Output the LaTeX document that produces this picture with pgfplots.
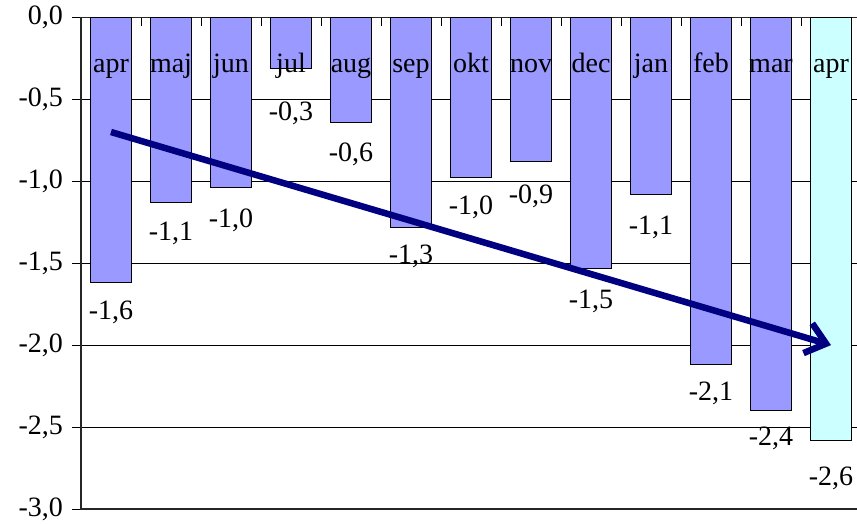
\documentclass[border=0pt]{standalone}
\usepackage{fontspec}
\setmainfont{Liberation Serif}
\usepackage{pgfplots}
\usepackage{pgfplotstable}
\pgfplotsset{compat=1.18}
\usetikzlibrary{arrows.meta,calc}

\definecolor{barblue}{HTML}{9999FF}
\definecolor{barcyan}{HTML}{CCFFFF}
\definecolor{navy}{HTML}{000080}
\newcommand\cf{\fontsize{28}{33}\selectfont}

% monthly change, apr .. mar; off = drop of the value label below the bar end (pt)
\pgfplotstableread{
x y off
0 -1.62 37
1 -1.13 38
2 -1.04 40
3 -0.31 52
4 -0.64 39
5 -1.28 36
6 -0.98 37
7 -0.88 42
8 -1.53 40
9 -1.08 40
10 -2.12 36
11 -2.40 35
}\bars

\pgfplotstableread{
x y off
12 -2.58 45
}\lastbar

\pgfplotstableread{
x y lab
0 -0.334 apr
1 -0.334 maj
2 -0.334 jun
3 -0.334 jul
4 -0.334 aug
5 -0.334 sep
6 -0.334 okt
7 -0.334 nov
8 -0.334 dec
9 -0.334 jan
10 -0.334 feb
11 -0.334 mar
12 -0.334 apr
}\months

\begin{document}
\begin{tikzpicture}
\begin{axis}[
  name=ax,
  scale only axis,
  width=780pt, height=491.7pt,
  xmin=-0.5, xmax=12.5,
  ymin=-3, ymax=0,
  xtick={0.5,1.5,2.5,3.5,4.5,5.5,6.5,7.5,8.5,9.5,10.5,11.5},
  xticklabels={},
  xtick pos=right, xtick align=inside,
  ytick={-3,-2.5,-2,-1.5,-1,-0.5,0},
  yticklabels={{-3,0},{-2,5},{-2,0},{-1,5},{-1,0},{-0,5},{0,0}},
  ytick pos=left, ytick align=outside,
  major tick length=8.5pt,
  ymajorgrids,
  grid style={black, line width=0.8pt},
  axis line style={black!85, line width=1.3pt},
  tick style={black, line width=0.8pt},
  yticklabel style={font=\cf, xshift=-6pt},
  /pgf/number format/fixed,
  /pgf/number format/fixed zerofill,
  /pgf/number format/precision=1,
  /pgf/number format/use comma,
  /pgf/number format/assume math mode=true,
  barstyle/.style={ybar, bar width=0.667, draw=black, line width=1pt,
    nodes near coords={-\pgfmathprintnumber{\absval}},
    visualization depends on={-\thisrow{y}\as\absval},
    visualization depends on={\thisrow{off}\as\labdrop},
    every node near coord/.append style={anchor=base, yshift=-\labdrop pt,
      font=\cf, text=black}},
]
\addplot[barstyle, fill=barblue] table[x=x, y=y] {\bars};
\addplot[barstyle, fill=barcyan] table[x=x, y=y] {\lastbar};
\addplot[draw=none, nodes near coords, point meta=explicit symbolic,
  every node near coord/.append style={anchor=base, inner sep=0pt, font=\cf, text=black}]
  table[x=x, y=y, meta=lab] {\months};
\addplot[navy, line width=6.5pt, -{Straight Barb[length=19pt, width=31pt]}]
  coordinates {(0,-0.7) (12,-2.0)};
\end{axis}
\pgfresetboundingbox
\path[use as bounding box] ($(ax.south west)+(-81pt,-15pt)$) rectangle ($(ax.north west)+(776pt,17.3pt)$);
\end{tikzpicture}
\end{document}
